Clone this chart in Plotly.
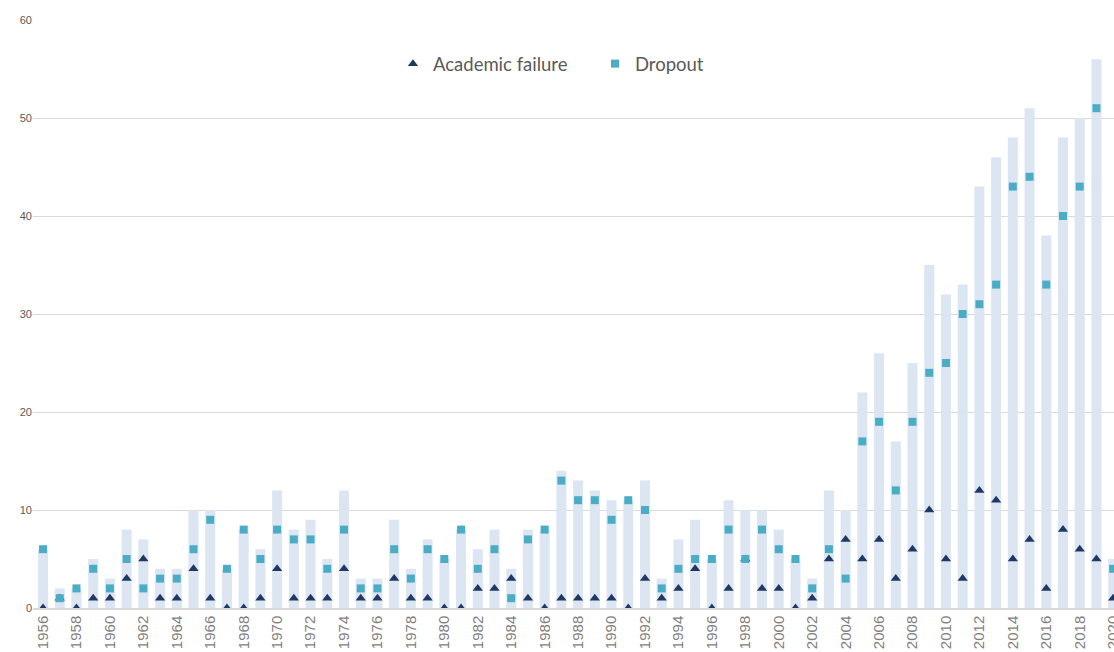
import plotly.graph_objects as go

years = list(range(1956, 2021))
academic_failure = [0, 1, 0, 1, 1, 3, 5, 1, 1, 4, 1, 0, 0, 1, 4, 1, 1, 1, 4, 1,
                    1, 3, 1, 1, 0, 0, 2, 2, 3, 1, 0, 1, 1, 1, 1, 0, 3, 1, 2, 4,
                    0, 2, 5, 2, 2, 0, 1, 5, 7, 5, 7, 3, 6, 10, 5, 3, 12, 11, 5, 7,
                    2, 8, 6, 5, 1]
dropout = [6, 1, 2, 4, 2, 5, 2, 3, 3, 6, 9, 4, 8, 5, 8, 7, 7, 4, 8, 2,
           2, 6, 3, 6, 5, 8, 4, 6, 1, 7, 8, 13, 11, 11, 9, 11, 10, 2, 4, 5,
           5, 8, 5, 8, 6, 5, 2, 6, 3, 17, 19, 12, 19, 24, 25, 30, 31, 33, 43, 44,
           33, 40, 43, 51, 4]
total = [6, 2, 2, 5, 3, 8, 7, 4, 4, 10, 10, 4, 8, 6, 12, 8, 9, 5, 12, 3,
         3, 9, 4, 7, 5, 8, 6, 8, 4, 8, 8, 14, 13, 12, 11, 11, 13, 3, 7, 9,
         5, 11, 10, 10, 8, 5, 3, 12, 10, 22, 26, 17, 25, 35, 32, 33, 43, 46, 48, 51,
         38, 48, 50, 56, 5]
y_ticks = [0, 10, 20, 30, 40, 50, 60]
x_ticks = list(range(1956, 2021, 2))

fig = go.Figure()
fig.add_trace(go.Bar(x=years, y=total, marker=dict(color="#dce6f2", line=dict(width=0)),
                     width=0.6, showlegend=False, name="Total"))
fig.add_trace(go.Scatter(x=years, y=academic_failure, mode="markers", name="Academic failure",
                         marker=dict(symbol="triangle-up", size=9, color="#1f3864")))
fig.add_trace(go.Scatter(x=years, y=dropout, mode="markers", name="Dropout",
                         marker=dict(symbol="square", size=8, color="#4bacc6")))

fig.update_layout(
    width=1114, height=652,
    margin=dict(l=33, r=0, t=20, b=44),
    plot_bgcolor="white", paper_bgcolor="white",
    bargap=0.4,
    legend=dict(orientation="h", x=0.333, y=0.925, xanchor="left", yanchor="middle",
                font=dict(family="Lato", size=18.5, color="#595959"),
                bgcolor="rgba(0,0,0,0)", entrywidth=157, entrywidthmode="pixels"),
    xaxis=dict(range=[1955.4, 2020.05], tickmode="array", tickvals=x_ticks,
               ticktext=[str(v) for v in x_ticks], tickangle=-90,
               ticklabeloverflow="allow", automargin=False,
               tickfont=dict(family="Liberation Sans", size=15, color="#7f7f7f"),
               showgrid=False, ticks="", showline=True, linecolor="#d9d9d9", linewidth=1.5,
               zeroline=False),
    yaxis=dict(range=[0, 60], tickmode="array", tickvals=y_ticks, automargin=False,
               tickfont=dict(family="Liberation Sans", size=11, color="#595959"),
               showgrid=True, gridcolor="#d9d9d9", gridwidth=1, zeroline=False,
               ticks="", showline=False),
)

fig.write_html("out.html", config={"displayModeBar": False},
               post_script="document.body.style.margin='0';document.body.style.overflow='hidden';")
